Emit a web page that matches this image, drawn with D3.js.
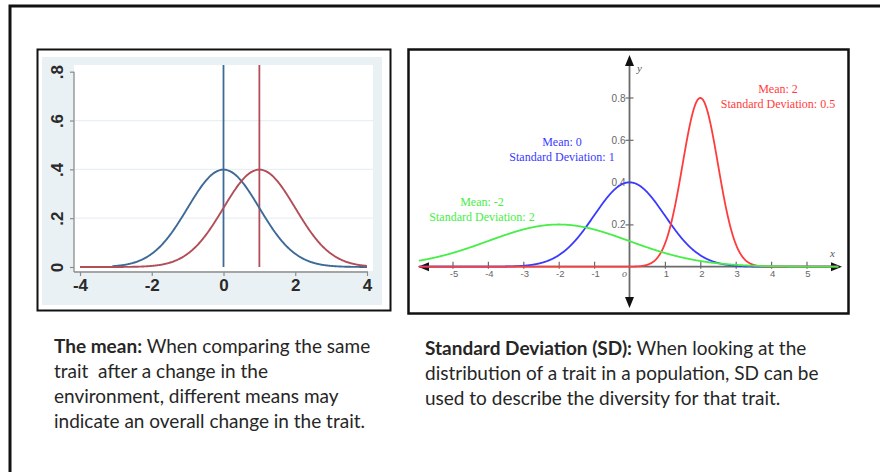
<!DOCTYPE html>
<html>
<head>
<meta charset="utf-8">
<script src="https://cdn.jsdelivr.net/npm/d3@7"></script>
<style>
  body { margin: 0; background: #fff; }
  svg { display: block; }
</style>
</head>
<body>
<svg id="chart" width="880" height="472"></svg>
<script>
// ---- Left panel: same spread, different means ----
const meanCurveNames = ["before", "after"];
const meanCurveMeans = [0, 1];
const meanCurveSDs = [1, 1];
const meanCurveRanges = [[-3.1, 4], [-4, 4]];
const meanCurveColors = ["#3e6a98", "#b24e58"];
const meanXTicks = [-4, -2, 0, 2, 4];
const meanYTicks = [0, 0.2, 0.4, 0.6, 0.8];
const meanYTickLabels = ["0", ".2", ".4", ".6", ".8"];

// ---- Right panel: different spreads ----
const sdCurveMeans = [-2, 0, 2];
const sdCurveSDs = [2, 1, 0.5];
const sdCurveColors = ["#46ee46", "#3a3aff", "#ff3c3c"];
const sdCurveLabels = [
  ["Mean: -2", "Standard Deviation: 2"],
  ["Mean: 0", "Standard Deviation: 1"],
  ["Mean: 2", "Standard Deviation: 0.5"]
];
const sdXTicks = [-5, -4, -3, -2, -1, 1, 2, 3, 4, 5];
const sdYTicks = [0.2, 0.4, 0.6, 0.8];
const sdYTickLabels = ["0.2", "0.4", "0.6", "0.8"];

// ---- Captions ----
const meanCaption = [
  [["The mean:", true], [" When comparing the same", false]],
  [["trait\u00a0 after a change in the", false]],
  [["environment, different means may", false]],
  [["indicate an overall change in the trait.", false]]
];
const sdCaption = [
  [["Standard Deviation (SD):", true], [" When looking at the", false]],
  [["distribution of a trait in a population, SD can be", false]],
  [["used to describe the diversity for that trait.", false]]
];

const normalPdf = (x, m, s) =>
  Math.exp(-0.5 * ((x - m) / s) ** 2) / (s * Math.sqrt(2 * Math.PI));

const svg = d3.select("#chart");

// slide frame
svg.append("rect")
  .attr("x", 10).attr("y", 6).attr("width", 900).attr("height", 500)
  .attr("fill", "none").attr("stroke", "#111").attr("stroke-width", 3);

// ================= Left panel =================
const L = svg.append("g");
L.append("rect")
  .attr("x", 37.5).attr("y", 49.5).attr("width", 353).attr("height", 261)
  .attr("fill", "#fff").attr("stroke", "#111").attr("stroke-width", 2);
L.append("rect")
  .attr("x", 42).attr("y", 57).attr("width", 340).attr("height", 248)
  .attr("fill", "#eaf1f4");
L.append("rect")
  .attr("x", 74).attr("y", 65).attr("width", 299).attr("height", 206)
  .attr("fill", "#fff");

const lx = d3.scaleLinear().domain([-4, 4]).range([80, 367]);
const ly = d3.scaleLinear().domain([0, 0.8]).range([267, 71.7]);

// grid
L.selectAll(".grid").data(meanYTicks.filter(d => d > 0 && d < 0.8)).join("line")
  .attr("x1", 75).attr("x2", 373)
  .attr("y1", d => ly(d)).attr("y2", d => ly(d))
  .attr("stroke", "#e8f0f3").attr("stroke-width", 1.2);

// axes
const axisColor = "#8c8c8c";
const tickFont = "Arial, 'Liberation Sans', sans-serif";
const lyAxis = d3.axisLeft(ly).tickValues(meanYTicks).tickSize(4)
  .tickFormat((d, i) => meanYTickLabels[i]);
const gly = L.append("g").attr("transform", "translate(74,0)").call(lyAxis)
  .attr("font-size", 17).attr("font-family", tickFont);
gly.select(".domain").attr("d", `M0,${ly(0.8)}V272`).attr("stroke", axisColor).attr("stroke-width", 1.3);
gly.selectAll(".tick line").attr("stroke", axisColor).attr("stroke-width", 1.2);
gly.selectAll(".tick text")
  .attr("x", 0).attr("dy", 0)
  .attr("transform", "translate(-11,0) rotate(-90)")
  .attr("text-anchor", "middle")
  .style("font-weight", 700)
  .attr("fill", "#2a2a2a");

const lxAxis = d3.axisBottom(lx).tickValues(meanXTicks).tickSize(4).tickFormat(d3.format("d"));
const glx = L.append("g").attr("transform", "translate(0,272)").call(lxAxis)
  .attr("font-size", 17).attr("font-family", tickFont);
glx.select(".domain").attr("d", "M74,0H368").attr("stroke", axisColor).attr("stroke-width", 1.3);
glx.selectAll(".tick line").attr("stroke", axisColor).attr("stroke-width", 1.2);
glx.selectAll(".tick text")
  .attr("y", 7).attr("dy", "0.71em")
  .style("font-weight", 700)
  .attr("fill", "#2a2a2a")
  .text(d => d < 0 ? "-" + Math.abs(d) : d);

// mean lines
L.selectAll(".meanline").data(meanCurveMeans).join("line")
  .attr("x1", d => lx(d)).attr("x2", d => lx(d))
  .attr("y1", ly(0)).attr("y2", 65)
  .attr("stroke", (d, i) => meanCurveColors[i]).attr("stroke-width", 1.8);

// density curves
const lline = d3.line().x(d => lx(d[0])).y(d => ly(d[1])).curve(d3.curveBasis);
meanCurveNames.forEach((name, i) => {
  const [a, b] = meanCurveRanges[i];
  const pts = d3.range(a, b + 1e-9, 0.02).map(x => [x, normalPdf(x, meanCurveMeans[i], meanCurveSDs[i])]);
  L.append("path").datum(pts).attr("class", "curve-" + name)
    .attr("d", lline).attr("fill", "none")
    .attr("stroke", meanCurveColors[i]).attr("stroke-width", 1.9);
});

// ================= Right panel =================
const R = svg.append("g");
R.append("rect")
  .attr("x", 408.5).attr("y", 49.5).attr("width", 440).attr("height", 264)
  .attr("fill", "#fff").attr("stroke", "#111").attr("stroke-width", 2.5);

const rx = d3.scaleLinear().domain([0, 1]).range([629.5, 664.9]);
const ry = d3.scaleLinear().domain([0, 0.8]).range([266.7, 97.5]);
const gray = "#6a6a6a";

// x axis with arrows
R.append("line").attr("x1", 424).attr("x2", 836).attr("y1", ry(0)).attr("y2", ry(0))
  .attr("stroke", gray).attr("stroke-width", 1.8);
R.append("path").attr("d", `M418,${ry(0)}l11,-4.5v9z`).attr("fill", "#111");
R.append("path").attr("d", `M842,${ry(0)}l-11,-4.5v9z`).attr("fill", "#111");
// y axis with arrows
R.append("line").attr("x1", rx(0)).attr("x2", rx(0)).attr("y1", 62).attr("y2", 300)
  .attr("stroke", gray).attr("stroke-width", 1.8);
R.append("path").attr("d", `M${rx(0)},55l-4.5,11h9z`).attr("fill", "#111");
R.append("path").attr("d", `M${rx(0)},308l-4.5,-11h9z`).attr("fill", "#111");

// x ticks
const rxAxis = d3.axisBottom(rx).tickValues(sdXTicks).tickSize(0).tickFormat(d3.format("d"));
const grx = R.append("g").attr("transform", `translate(0,${ry(0)})`).call(rxAxis)
  .attr("font-size", 9.5).attr("font-family", tickFont);
grx.select(".domain").remove();
grx.selectAll(".tick").append("line")
  .attr("y1", -5).attr("y2", 2).attr("stroke", gray).attr("stroke-width", 1.2);
grx.selectAll(".tick text")
  .attr("y", 4).attr("dy", "0.71em").attr("x", 1)
  .attr("fill", "#666")
  .text(d => d < 0 ? "-" + Math.abs(d) : d);
R.append("text").attr("x", rx(0) - 5).attr("y", ry(0) + 10)
  .attr("font-family", "'Liberation Serif', serif").attr("font-style", "italic")
  .attr("font-size", 10).attr("fill", "#666").attr("text-anchor", "middle").text("o");

// y ticks
const ryAxis = d3.axisLeft(ry).tickValues(sdYTicks).tickSize(0)
  .tickFormat((d, i) => sdYTickLabels[i]);
const gry = R.append("g").attr("transform", `translate(${rx(0)},0)`).call(ryAxis)
  .attr("font-size", 10).attr("font-family", tickFont);
gry.select(".domain").remove();
gry.selectAll(".tick").append("line")
  .attr("x1", -4).attr("x2", 4).attr("stroke", gray).attr("stroke-width", 1.2);
gry.selectAll(".tick text")
  .attr("x", -4).attr("dy", "0.35em")
  .attr("fill", "#666");

// axis names
R.append("text").attr("x", 637).attr("y", 72)
  .attr("font-family", "'Liberation Serif', serif").attr("font-style", "italic")
  .attr("font-size", 11).attr("fill", "#555").text("y");
R.append("text").attr("x", 830).attr("y", 257)
  .attr("font-family", "'Liberation Serif', serif").attr("font-style", "italic")
  .attr("font-size", 11).attr("fill", "#555").text("x");

// density curves (blue, red, green draw order)
const rline = d3.line().x(d => rx(d[0])).y(d => ry(d[1]));
[1, 2, 0].forEach(i => {
  const pts = d3.range(-5.95, 5.9, 0.01).map(x => [x, normalPdf(x, sdCurveMeans[i], sdCurveSDs[i])]);
  R.append("path").datum(pts)
    .attr("d", rline).attr("fill", "none")
    .attr("stroke", sdCurveColors[i]).attr("stroke-width", 1.8);
});

// curve labels
const labelPos = [[482, 206], [562, 146], [778, 93]];
sdCurveLabels.forEach((lines, i) => {
  const t = R.append("text")
    .attr("font-family", "'Liberation Serif', 'Times New Roman', serif")
    .attr("font-size", 12).attr("fill", sdCurveColors[i])
    .attr("text-anchor", "middle");
  lines.forEach((ln, j) => {
    t.append("tspan").attr("x", labelPos[i][0]).attr("y", labelPos[i][1] + j * 14.5).text(ln);
  });
});

// ================= Captions =================
function caption(lines, x, y0) {
  const t = svg.append("text")
    .attr("font-family", "Lato, 'Open Sans', sans-serif")
    .attr("font-size", 19).attr("fill", "#262626");
  lines.forEach((parts, j) => {
    parts.forEach(([s, bold], k) => {
      const ts = t.append("tspan").attr("font-weight", bold ? 700 : 400)
        .style("white-space", "pre").text(s);
      if (k === 0) ts.attr("x", x).attr("y", y0 + j * 25);
    });
  });
}
caption(meanCaption, 54, 353);
caption(sdCaption, 425, 355);
</script>
</body>
</html>
